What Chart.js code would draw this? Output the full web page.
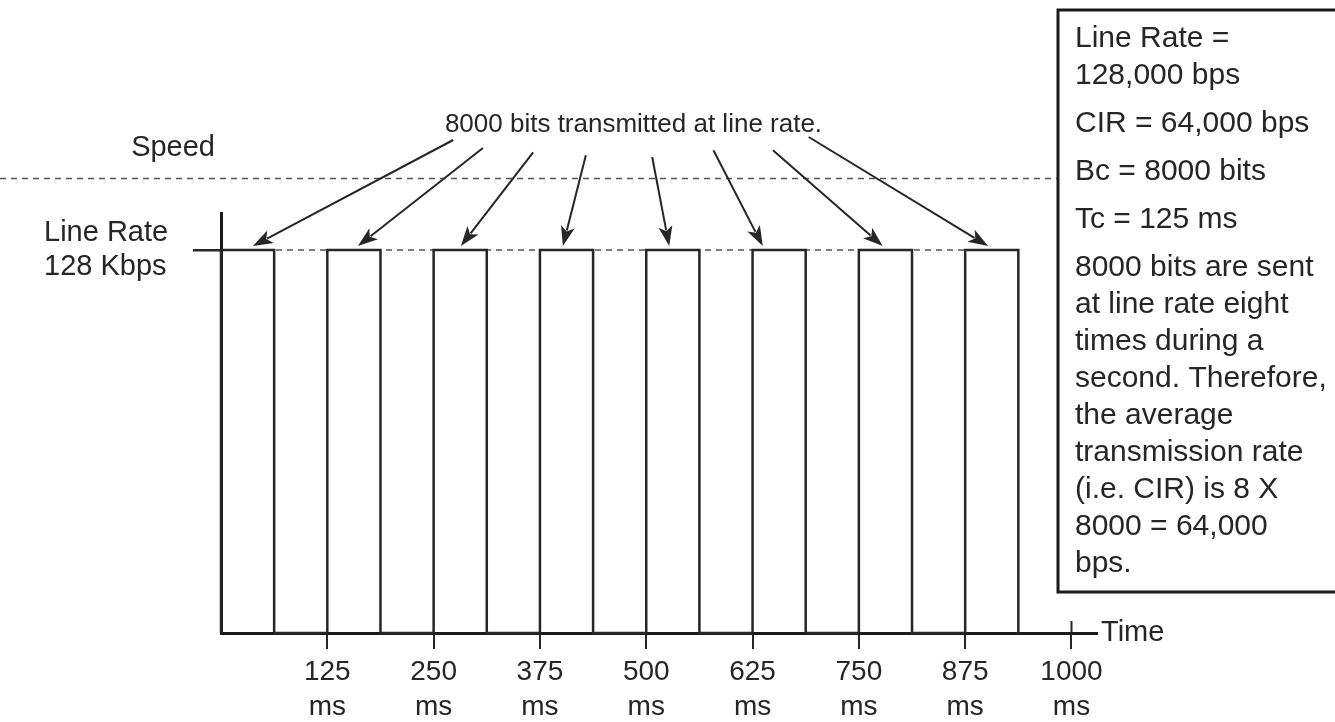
<!DOCTYPE html>
<html>
<head>
<meta charset="utf-8">
<script src="https://cdn.jsdelivr.net/npm/chart.js@4.4.1/dist/chart.umd.min.js"></script>
<style>
  html, body { margin: 0; padding: 0; background: #fff; }
</style>
</head>
<body>
<canvas id="shapingChart" width="1335" height="722"></canvas>
<script>
// bursts of Bc = 8000 bits sent at line rate, one per Tc (ms)
const pulseStarts = [0, 125, 250, 375, 500, 625, 750, 875];
const pulseEnds = [62.5, 187.5, 312.5, 437.5, 562.5, 687.5, 812.5, 937.5];
const lineRate = 128;     // Kbps
const speedLevel = 152;   // dashed "Speed" line
const timeTicks = [125, 250, 375, 500, 625, 750, 875, 1000];
const timeTickLabels = ['125', '250', '375', '500', '625', '750', '875', '1000'];

// callout arrows: tip on each burst (ms), tail near the caption (ms, Kbps)
const arrowTips = [37.5, 161, 282, 402, 527, 637, 778, 902];
const arrowTailX = [273, 308, 367, 429, 507, 579, 649, 691];
const arrowTailY = [164.8, 162.1, 160.7, 159.7, 159.1, 161.4, 161.4, 165.8];
const captionText = '8000 bits transmitted at line rate.';
const captionAt = [485, 170];

const infoGroups = [
  ['Line Rate =', '128,000 bps'],
  ['CIR = 64,000 bps'],
  ['Bc = 8000 bits'],
  ['Tc = 125 ms'],
  ['8000 bits are sent', 'at line rate eight', 'times during a', 'second. Therefore,',
   'the average', 'transmission rate', '(i.e. CIR) is 8 X', '8000 = 64,000', 'bps.']
];

const FONT = '"Liberation Sans", Arial, Helvetica, sans-serif';
const INK = '#262626';
const INFO_BOX = { left: 1058, top: 10, bottom: 592 };

const pulseData = [];
pulseStarts.forEach(function (s, i) {
    pulseData.push({ x: s, y: 0 }, { x: s, y: lineRate }, { x: pulseEnds[i], y: lineRate }, { x: pulseEnds[i], y: 0 });
});
const lineRateData = [{ x: pulseStarts[0], y: lineRate }, { x: pulseEnds[pulseEnds.length - 1], y: lineRate }];

function drawArrow(ctx, x0, y0, x1, y1) {
    const a = Math.atan2(y1 - y0, x1 - x0);
    const len = 20, half = 7;
    const bx = x1 - len * Math.cos(a), by = y1 - len * Math.sin(a);
    ctx.beginPath();
    ctx.moveTo(x0, y0);
    ctx.lineTo(bx + 4 * Math.cos(a), by + 4 * Math.sin(a));
    ctx.stroke();
    ctx.beginPath();
    ctx.moveTo(x1, y1);
    ctx.lineTo(bx + half * Math.sin(a), by - half * Math.cos(a));
    ctx.lineTo(bx + 5 * Math.cos(a), by + 5 * Math.sin(a));
    ctx.lineTo(bx - half * Math.sin(a), by + half * Math.cos(a));
    ctx.closePath();
    ctx.fill();
}

const annotations = {
    id: 'annotations',
    afterDraw(chart) {
        const ctx = chart.ctx;
        const area = chart.chartArea;
        const x = chart.scales.x, y = chart.scales.y;
        ctx.save();

        // Speed reference line and its label
        const sy = Math.round(y.getPixelForValue(speedLevel)) + 0.5;
        ctx.strokeStyle = '#555';
        ctx.lineWidth = 1.5;
        ctx.setLineDash([6, 5]);
        ctx.beginPath();
        ctx.moveTo(0, sy);
        ctx.lineTo(INFO_BOX.left, sy);
        ctx.stroke();
        ctx.setLineDash([]);

        ctx.fillStyle = INK;
        ctx.font = '29px ' + FONT;
        ctx.textAlign = 'right';
        ctx.textBaseline = 'alphabetic';
        ctx.fillText('Speed', area.left - 6, sy - 23);

        // caption + arrows
        ctx.font = '26px ' + FONT;
        ctx.textAlign = 'center';
        ctx.textBaseline = 'middle';
        ctx.fillText(captionText, x.getPixelForValue(captionAt[0]), y.getPixelForValue(captionAt[1]));

        ctx.strokeStyle = INK;
        ctx.fillStyle = INK;
        ctx.lineWidth = 2;
        const tipY = y.getPixelForValue(lineRate) - 4;
        arrowTips.forEach(function (t, i) {
            drawArrow(ctx, x.getPixelForValue(arrowTailX[i]), y.getPixelForValue(arrowTailY[i]),
                      x.getPixelForValue(t), tipY);
        });

        // little cross at 1000 ms and the "Time" label
        const x1000 = x.getPixelForValue(timeTicks[timeTicks.length - 1]);
        ctx.lineWidth = 2;
        ctx.beginPath();
        ctx.moveTo(x1000, area.bottom - 12);
        ctx.lineTo(x1000, area.bottom);
        ctx.stroke();
        ctx.font = '29px ' + FONT;
        ctx.textAlign = 'left';
        ctx.textBaseline = 'middle';
        ctx.fillText('Time', area.right + 4, area.bottom);

        // info box
        ctx.fillStyle = '#fff';
        ctx.fillRect(INFO_BOX.left, INFO_BOX.top, chart.width, INFO_BOX.bottom - INFO_BOX.top);
        ctx.strokeStyle = '#1a1a1a';
        ctx.lineWidth = 3;
        ctx.strokeRect(INFO_BOX.left, INFO_BOX.top, chart.width, INFO_BOX.bottom - INFO_BOX.top);
        ctx.fillStyle = INK;
        ctx.font = '30px ' + FONT;
        ctx.textAlign = 'left';
        ctx.textBaseline = 'alphabetic';
        let base = INFO_BOX.top + 37;
        infoGroups.forEach(function (group, gi) {
            if (gi > 0) base += 48;
            group.forEach(function (line, li) {
                if (li > 0) base += 37;
                ctx.fillText(line, INFO_BOX.left + 17, base);
            });
        });
        ctx.restore();
    }
};

new Chart(document.getElementById('shapingChart').getContext('2d'), {
    type: 'line',
    data: {
        datasets: [
            {
                label: 'Burst',
                data: pulseData,
                borderColor: INK,
                borderWidth: 2.5,
                pointRadius: 0,
                tension: 0,
                fill: false,
                clip: false,
                order: 1
            },
            {
                label: 'Line rate',
                data: lineRateData,
                borderColor: '#555',
                borderWidth: 1.5,
                borderDash: [6, 5],
                pointRadius: 0,
                fill: false,
                order: 2
            }
        ]
    },
    plugins: [annotations],
    options: {
        responsive: false,
        devicePixelRatio: 1,
        animation: false,
        layout: { padding: { left: 44, top: 213, right: 238, bottom: 0 } },
        plugins: {
            legend: { display: false },
            tooltip: { enabled: false },
            title: { display: false }
        },
        scales: {
            x: {
                type: 'linear',
                min: 0,
                max: 1030,
                afterBuildTicks: function (scale) {
                    scale.ticks = timeTicks.map(function (v) { return { value: v }; });
                },
                afterFit: function (scale) { scale.height = 89; },
                border: { display: true, color: '#1a1a1a', width: 3 },
                grid: { drawOnChartArea: false, drawTicks: true, tickLength: 16, color: INK, lineWidth: 2 },
                ticks: {
                    autoSkip: false,
                    maxRotation: 0,
                    padding: 6,
                    color: INK,
                    font: { family: FONT, size: 28, lineHeight: 1.25 },
                    callback: function (v) {
                        const i = timeTicks.indexOf(v);
                        return i < 0 ? '' : [timeTickLabels[i], 'ms'];
                    }
                }
            },
            y: {
                type: 'linear',
                min: 0,
                max: 140.4,
                afterBuildTicks: function (scale) { scale.ticks = [{ value: lineRate }]; },
                afterFit: function (scale) { scale.width = 177; },
                border: { display: true, color: '#1a1a1a', width: 3 },
                grid: { drawOnChartArea: false, drawTicks: true, tickLength: 28, color: INK, lineWidth: 2.5 },
                ticks: {
                    crossAlign: 'far',
                    color: INK,
                    font: { family: FONT, size: 29, lineHeight: 1.2 },
                    callback: function () { return ['Line Rate', '128 Kbps']; }
                }
            }
        }
    }
});
</script>
</body>
</html>
